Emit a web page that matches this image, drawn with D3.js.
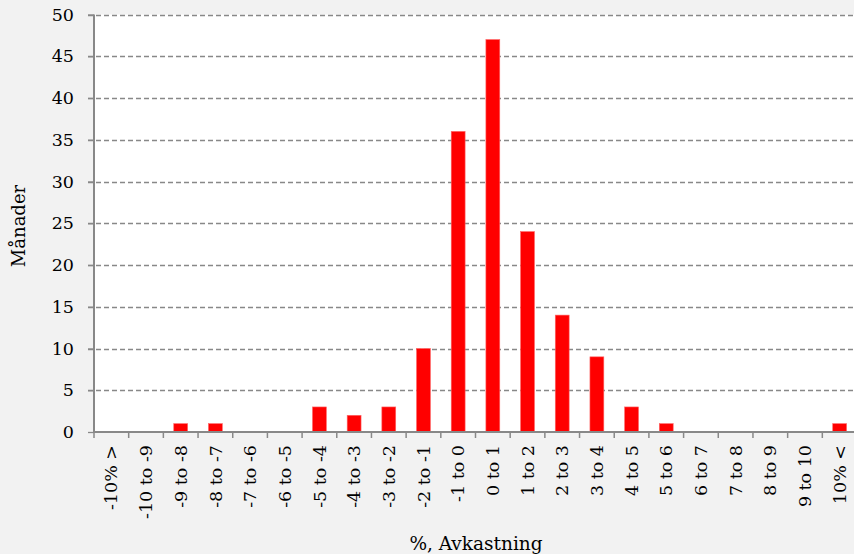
<!DOCTYPE html>
<html>
<head>
<meta charset="utf-8">
<script src="https://cdn.jsdelivr.net/npm/d3@7"></script>
<style>
  body { margin: 0; background: #f2f2f2; }
  svg { display: block; font-family: "DejaVu Serif", serif; }
</style>
</head>
<body>
<svg id="chart" width="854" height="554"></svg>
<script>
const categories = ['-10% >', '-10 to -9', '-9 to -8', '-8 to -7', '-7 to -6', '-6 to -5', '-5 to -4',
  '-4 to -3', '-3 to -2', '-2 to -1', '-1 to 0', '0 to 1', '1 to 2', '2 to 3', '3 to 4', '4 to 5',
  '5 to 6', '6 to 7', '7 to 8', '8 to 9', '9 to 10', '10% <'];
const months = [0, 0, 1, 1, 0, 0, 3, 2, 3, 10, 36, 47, 24, 14, 9, 3, 1, 0, 0, 0, 0, 1];
const yTicks = [0, 5, 10, 15, 20, 25, 30, 35, 40, 45, 50];
const yTitle = 'Månader';
const xTitle = '%, Avkastning';

const svg = d3.select('#chart');
const plotLeft = 94;
const plotRight = 857;
const plotTop = 14.5;
const plotBottom = 432;
const axisColor = '#888';

const x = d3.scaleBand().domain(categories).range([plotLeft, plotRight]).paddingInner(0.6).paddingOuter(0.3);
const xEdge = d3.scaleBand().domain(categories).range([plotLeft, plotRight]);
const y = d3.scaleLinear().domain([0, 50]).range([plotBottom, plotTop]);

// plot background
svg.append('rect')
  .attr('x', plotLeft).attr('y', plotTop)
  .attr('width', plotRight - plotLeft).attr('height', plotBottom - plotTop)
  .attr('fill', '#fff');

// gridlines
svg.append('g')
  .selectAll('line')
  .data(yTicks.filter((d) => d > 0))
  .enter()
  .append('line')
  .attr('x1', plotLeft - 6).attr('x2', plotRight)
  .attr('y1', (d) => Math.round(y(d)) + 0.5).attr('y2', (d) => Math.round(y(d)) + 0.5)
  .attr('stroke', axisColor)
  .attr('stroke-width', 1.3)
  .attr('stroke-dasharray', '5,3');

// bars
svg.append('g')
  .selectAll('rect')
  .data(months)
  .enter()
  .append('rect')
  .attr('x', (d, i) => x(categories[i]))
  .attr('y', (d) => y(d))
  .attr('width', x.bandwidth())
  .attr('height', (d) => plotBottom - y(d))
  .attr('fill', '#ff0000')
  .attr('stroke', '#ff6666')
  .attr('stroke-width', 0.6);

// y axis
const yAxis = d3.axisLeft(y).tickValues(yTicks).tickSize(6).tickPadding(14);
const gy = svg.append('g')
  .attr('transform', `translate(${plotLeft},0)`)
  .call(yAxis);
gy.select('.domain').attr('stroke', axisColor).attr('stroke-width', 2).attr('d', `M0,${plotTop}V${plotBottom}`);
gy.selectAll('.tick line').attr('stroke', axisColor).attr('stroke-width', 1.3);
gy.selectAll('.tick text').attr('font-size', 17.5).attr('font-family', 'DejaVu Serif').attr('fill', '#000');

// x axis
const xAxis = d3.axisBottom(xEdge).tickSize(0).tickPadding(0);
const gx = svg.append('g')
  .attr('transform', `translate(0,${plotBottom})`)
  .call(xAxis);
gx.select('.domain').attr('stroke', axisColor).attr('stroke-width', 2).attr('d', `M${plotLeft},0H${plotRight}`);
gx.selectAll('.tick text')
  .attr('font-size', 17.5)
  .attr('font-family', 'DejaVu Serif')
  .attr('fill', '#000')
  .style('text-anchor', 'end')
  .attr('transform', 'rotate(-90)')
  .attr('x', -13)
  .attr('y', 0)
  .attr('dy', '0.35em');
// tick marks between categories
gx.append('g')
  .selectAll('line')
  .data(categories)
  .enter()
  .append('line')
  .attr('x1', (d) => xEdge(d)).attr('x2', (d) => xEdge(d))
  .attr('y1', 0).attr('y2', 6)
  .attr('stroke', axisColor)
  .attr('stroke-width', 1.5);

// titles
svg.append('text')
  .attr('transform', 'translate(25,226) rotate(-90)')
  .attr('text-anchor', 'middle')
  .attr('font-size', 18)
  .text(yTitle);

svg.append('text')
  .attr('x', 476)
  .attr('y', 550)
  .attr('text-anchor', 'middle')
  .attr('font-size', 18.5)
  .text(xTitle);
</script>
</body>
</html>
